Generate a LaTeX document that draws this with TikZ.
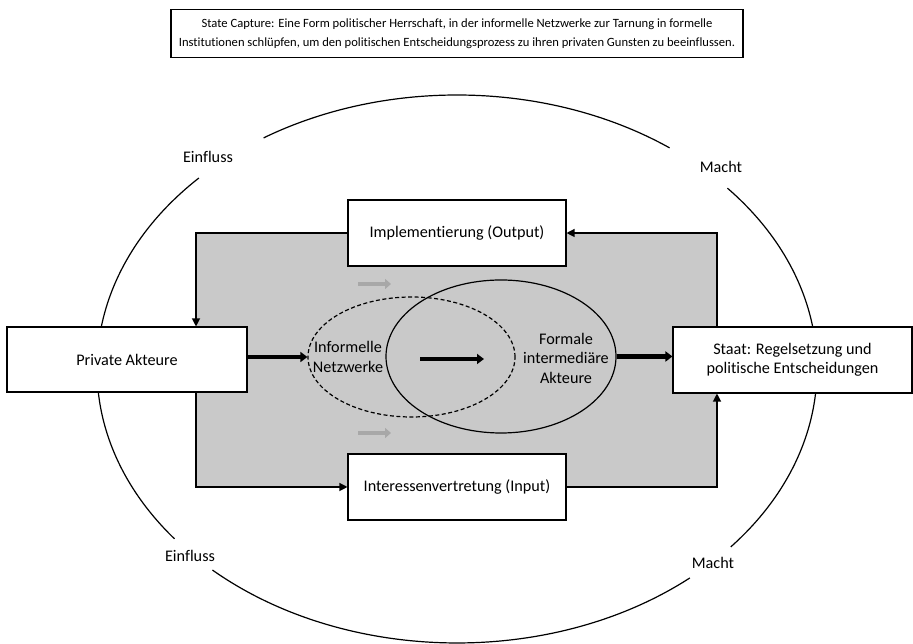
\documentclass[tikz,border=0pt]{standalone}
\usepackage{fontspec}
\setmainfont[Ligatures=NoCommon]{Carlito}
\usetikzlibrary{arrows.meta,shapes.geometric,calc}
\definecolor{areagray}{HTML}{C9C9C9}
\definecolor{lightarrow}{HTML}{A8A8A8}
\begin{document}
\begin{tikzpicture}[x=1pt,y=1pt,
  box/.style={draw=black,line width=1.1pt,fill=white,font=\fontsize{16.2}{19.5}\selectfont,align=center,inner sep=0pt},
  lbl/.style={font=\fontsize{16.2}{19.5}\selectfont,inner sep=0pt},
  thin/.style={line width=1.2pt,-{Triangle[length=8pt,width=8pt]}},
  thick/.style={line width=4.6pt,-{Triangle[length=7pt,width=10pt]}},
  grayarrow/.style={line width=4.6pt,lightarrow,-{Triangle[length=6pt,width=10pt]}}]
\useasboundingbox (0,0) rectangle (913,644);
% big ellipse in four arcs
\draw[line width=1.2pt] ([shift={(457,275)}]53.8:360 and 274) arc[start angle=53.8,end angle=122.5,x radius=360,y radius=274];
\draw[line width=1.2pt] ([shift={(457,275)}]135.8:360 and 274) arc[start angle=135.8,end angle=218.3,x radius=360,y radius=274];
\draw[line width=1.2pt] ([shift={(457,275)}]227.2:360 and 274) arc[start angle=227.2,end angle=310.3,x radius=360,y radius=274];
\draw[line width=1.2pt] ([shift={(457,275)}]319.5:360 and 274) arc[start angle=319.5,end angle=401.3,x radius=360,y radius=274];
\node[lbl] (einf1) at (208,487) {Einfluss};
\node[lbl] (macht1) at (721,477) {Macht};
\node[lbl] (einf2) at (190,88) {Einfluss};
\node[lbl] (macht2) at (713,81) {Macht};
% gray area
\fill[areagray] (196,157) rectangle (717,411);
\coordinate (tl) at (196,411);
\coordinate (tr) at (717,411);
\coordinate (bl) at (196,157);
\coordinate (br) at (717,157);
% title
\node[box,font=\fontsize{12.6}{19}\selectfont,minimum width=572pt,minimum height=48pt] (title) at (457,610.5)
  {State Capture: Eine Form politischer Herrschaft, in der informelle Netzwerke zur Tarnung in formelle\\
   Institutionen schlüpfen, um den politischen Entscheidungsprozess zu ihren privaten Gunsten zu beeinflussen.};
% boxes
\node[box,minimum width=218pt,minimum height=66pt] (impl) at (457,411) {Implementierung (Output)};
\node[box,minimum width=218pt,minimum height=66pt] (inter) at (457,157) {Interessenvertretung (Input)};
\node[box,minimum width=240pt,minimum height=65pt] (priv) at (127,284.5) {Private Akteure};
\node[box,minimum width=239pt,minimum height=66pt] (staat) at (792.5,284) {Staat: Regelsetzung und\\politische Entscheidungen};
% ellipses
\node[draw,dashed,dash pattern=on 4pt off 2.5pt,line width=1.2pt,ellipse,minimum width=207pt,minimum height=120pt,inner sep=0pt] (inf) at (411.5,287) {};
\node[draw,line width=1.2pt,ellipse,minimum width=230pt,minimum height=153pt,inner sep=0pt] (form) at (501,287.5) {};
\node[lbl,align=center] (inftxt) at (348,287) {Informelle\\Netzwerke};
\node[lbl,align=center] (formtxt) at (566,286) {Formale\\intermediäre\\Akteure};
% connectors
\draw[thin] (impl.west) -- (tl) -- (tl |- priv.north);
\draw[thin] (tr |- staat.north) -- (tr) -- (impl.east);
\draw[thin] (bl |- priv.south) -- (bl) -- (inter.west);
\draw[thin] (inter.east) -- (br) -- (br |- staat.south);
% thick arrows
\coordinate (c1) at (420,285);
\coordinate (c2) at (484,285);
\draw[thick] (priv.east |- inf.west) -- (inf.west);
\draw[thick] (c1) -- (c2);
\draw[thick] (form.east) -- (form.east -| staat.west);
\coordinate (g1) at (358,360);
\coordinate (g2) at (391,360);
\coordinate (g3) at (358,211);
\coordinate (g4) at (391,211);
\draw[grayarrow] (g1) -- (g2);
\draw[grayarrow] (g3) -- (g4);
\end{tikzpicture}
\end{document}
